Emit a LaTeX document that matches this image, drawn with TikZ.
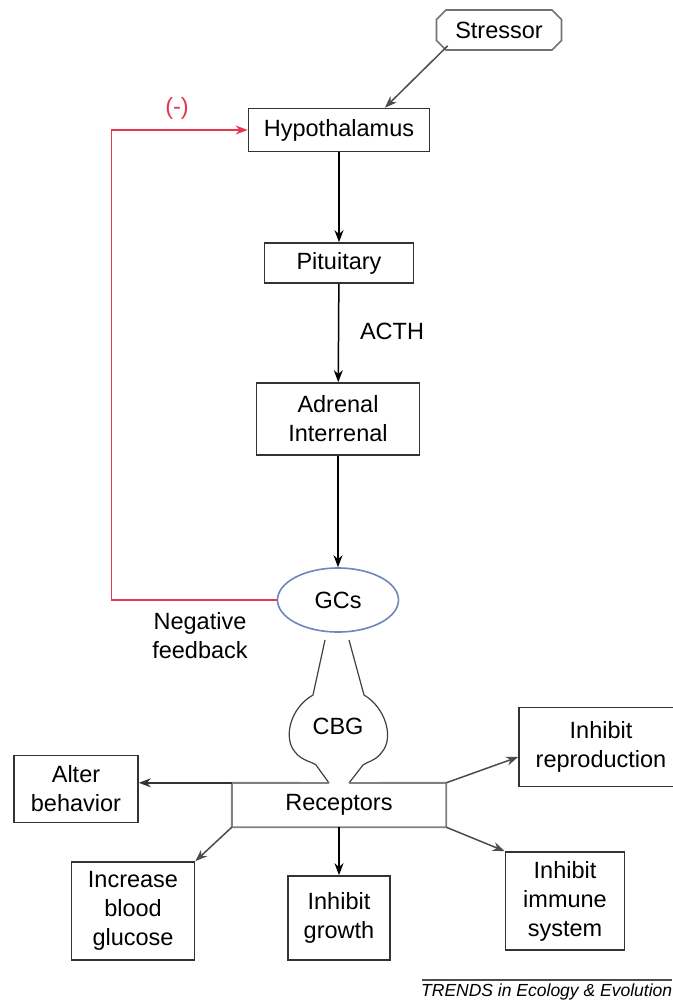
\documentclass[tikz,border=0pt]{standalone}
\usepackage{fontspec}
\setmainfont{Liberation Sans}
\usetikzlibrary{arrows.meta,shapes.misc,shapes.geometric}
\definecolor{fbred}{HTML}{E8364F}
\definecolor{gcblue}{HTML}{6F86B8}
\tikzset{
  box/.style={draw=black!80, line width=1.7pt, fill=white, align=center, inner sep=2pt},
  arr/.style={-{Stealth[length=12pt,width=9pt]}, line width=1.5pt},
  lbl/.style={align=center, inner sep=0pt}
}
\begin{document}
\begin{tikzpicture}[x=1pt, y=-1pt, font=\fontsize{23.5}{29}\selectfont]
\useasboundingbox (0,0) rectangle (672,1001);
\fill[white] (0,0) rectangle (672,1001);

\node [box, draw=black!55, chamfered rectangle, chamfered rectangle xsep=6pt,
       minimum width=125, minimum height=40] (stress) at (499,30) {Stressor};
\node [box, minimum width=181, minimum height=43] (hypo) at (339,130) {Hypothalamus};
\node [box, minimum width=149, minimum height=40] (pit) at (339,263) {Pituitary};
\node [lbl] (acth) at (392,331) {ACTH};
\node [box, minimum width=163, minimum height=72] (adr) at (338,419) {Adrenal\\Interrenal};
\node [ellipse, draw=gcblue, line width=1.6pt, minimum width=121, minimum height=64] (gcs) at (338,600) {GCs};
\node [lbl] (neg) at (200,636) {Negative\\feedback};
\node [lbl] (cbg) at (338,726) {CBG};
\node [lbl, minimum width=214, minimum height=44] (rec) at (339,805) {Receptors};

\node [box, minimum width=124, minimum height=67] (alter) at (76,789) {Alter\\behavior};
\node [box, minimum width=164, minimum height=79] (repro) at (601,747) {Inhibit\\reproduction};
\node [box, minimum width=123, minimum height=98] (gluc) at (133,911) {Increase\\blood\\glucose};
\node [box, minimum width=102, minimum height=84] (grow) at (339,918) {Inhibit\\growth};
\node [box, minimum width=119, minimum height=98] (imm) at (565,901) {Inhibit\\immune\\system};

% main axis
\draw [arr, black!70] ([xshift=7pt]stress.south west) -- ([xshift=46pt]hypo.north);
\draw [arr] (hypo) -- (pit);
\draw [arr] (pit) -- (adr);
\draw [arr] (adr) -- (gcs);

% negative feedback loop
\draw [arr, fbred] (gcs.west) -- ++(-165,0) |- (hypo.west);
\node [lbl, text=fbred] (minus) at (177,108) {(-)};

% CBG carrier
\coordinate (cbgl) at (329,783);
\coordinate (cbgr) at (349,783);
\draw [black!75, line width=1.2pt] (325,640) -- (313,695)
  .. controls (290,708) and (283,738) .. (295,752)
  .. controls (302,761) and (313,762) .. (316,765) -- (cbgl);
\draw [black!75, line width=1.2pt] (349,640) -- (364,695)
  .. controls (386,708) and (394,738) .. (382,752)
  .. controls (376,761) and (366,762) .. (363,765) -- (cbgr);

% receptor box, open where CBG enters
\draw [black!50, line width=1.9pt] (cbgl) -- (rec.north west) -- (rec.south west)
  -- (rec.south east) -- (rec.north east) -- (cbgr);

% effects
\draw [arr, black!80] (rec.north west) -- (rec.north west -| alter.east);
\draw [arr, black!70] (rec.north east) -- ([yshift=-10pt]repro.west);
\draw [arr, black!70] (rec.south west) -- (gluc.north east);
\draw [arr] (rec.south) -- (grow.north);
\draw [arr, black!70] (rec.south east) -- (imm.north west);

% journal tag
\coordinate (tagl) at (422,980);
\coordinate (tagr) at (672,980);
\draw [black!70, line width=2pt] (tagl) -- (tagr);
\node [anchor=north west, inner sep=0pt, font=\fontsize{17.5}{20}\selectfont\itshape] (tag) at (421,984) {TRENDS in Ecology \& Evolution};
\end{tikzpicture}
\end{document}
